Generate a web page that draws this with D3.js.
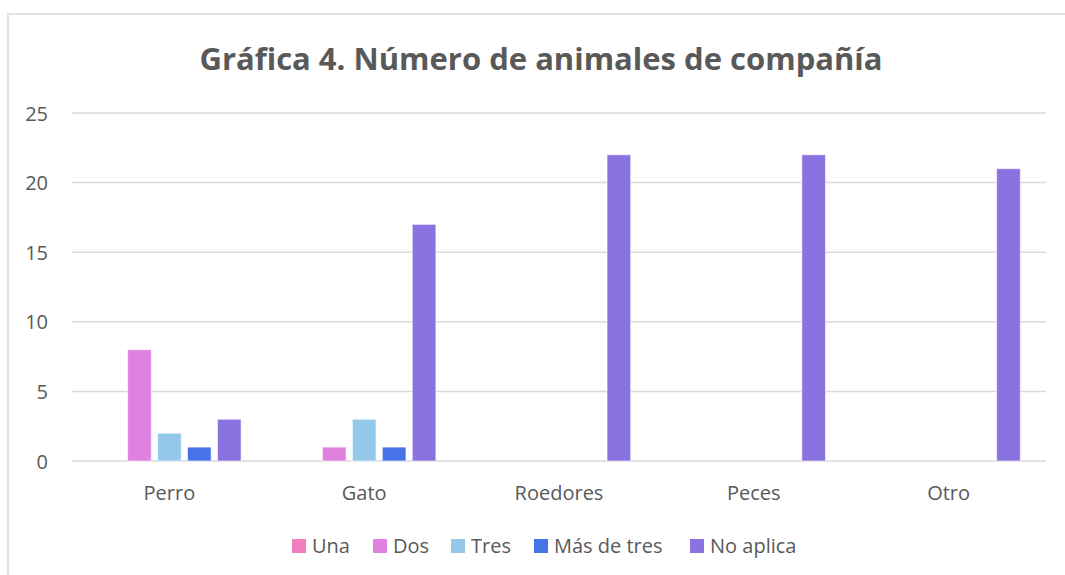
<!DOCTYPE html>
<html>
<head>
<meta charset="utf-8">
<script src="https://cdn.jsdelivr.net/npm/d3@7"></script>
<style>
  body { margin: 0; background: #fff; }
  svg text { font-family: "Open Sans", "Noto Sans", sans-serif; fill: #595959; }
</style>
</head>
<body>
<svg id="chart" width="1065" height="575"></svg>
<script>
const categories = ["Perro", "Gato", "Roedores", "Peces", "Otro"];
const seriesNames = ["Una", "Dos", "Tres", "Más de tres", "No aplica"];
const una = [0, 0, 0, 0, 0];
const dos = [8, 1, 0, 0, 0];
const tres = [2, 3, 0, 0, 0];
const masDeTres = [1, 1, 0, 0, 0];
const noAplica = [3, 17, 22, 22, 21];
const yTicks = [0, 5, 10, 15, 20, 25];
const colors = ["#f07fbf", "#df82df", "#94c9ea", "#4674e6", "#8a72e0"];

const seriesValues = [una, dos, tres, masDeTres, noAplica];

window.addEventListener('DOMContentLoaded', () => {
    const svg = d3.select('#chart');

    // chart frame
    svg.append('rect')
        .attr('x', 8).attr('y', 14)
        .attr('width', 1100).attr('height', 600)
        .attr('fill', 'none')
        .attr('stroke', '#d9d9d9')
        .attr('stroke-width', 1.5);

    svg.append('text')
        .attr('x', 541).attr('y', 70)
        .attr('text-anchor', 'middle')
        .style('font-size', '31px')
        .style('font-weight', 'bold')
        .text('Gráfica 4. Número de animales de compañía');

    const x0 = d3.scaleBand()
        .domain(categories)
        .range([72, 1046])
        .paddingInner(0.264)
        .paddingOuter(0.132);

    const x1 = d3.scaleBand()
        .domain(seriesNames)
        .range([0, x0.bandwidth()])
        .paddingInner(0.21);

    const y = d3.scaleLinear().domain([0, 25]).range([461, 113]);

    // gridlines
    svg.append('g')
        .selectAll('line')
        .data(yTicks)
        .join('line')
        .attr('x1', 72).attr('x2', 1046)
        .attr('y1', d => y(d)).attr('y2', d => y(d))
        .attr('stroke', '#d9d9d9')
        .attr('stroke-width', 1.5);

    const yAxis = svg.append('g')
        .attr('transform', 'translate(48,0)')
        .call(d3.axisLeft(y).tickValues(yTicks).tickSize(0).tickPadding(0));
    yAxis.select('.domain').remove();
    yAxis.selectAll('text').style('font-size', '20px').attr('dy', '0.35em');

    // bars
    const groups = svg.append('g')
        .selectAll('g')
        .data(categories)
        .join('g')
        .attr('transform', d => `translate(${x0(d)},0)`);

    groups.selectAll('rect')
        .data((c, i) => seriesNames.map((s, k) => ({ s, k, v: seriesValues[k][i] })))
        .join('rect')
        .filter(d => d.v > 0)
        .attr('x', d => x1(d.s))
        .attr('width', x1.bandwidth())
        .attr('y', d => y(d.v))
        .attr('height', d => y(0) - y(d.v))
        .attr('fill', d => colors[d.k])
        .attr('stroke', '#ffffff')
        .attr('stroke-opacity', 0.6)
        .attr('stroke-width', 1);

    // category labels
    const xAxis = svg.append('g')
        .attr('transform', `translate(0,${y(0)})`)
        .call(d3.axisBottom(x0).tickSize(0).tickPadding(0));
    xAxis.select('.domain').remove();
    xAxis.selectAll('text').style('font-size', '20px').attr('y', 39).attr('dy', '0');

    // legend
    const legendX = [292, 373, 451, 534, 690];
    const legend = svg.append('g')
        .selectAll('g')
        .data(seriesNames)
        .join('g')
        .attr('transform', (d, i) => `translate(${legendX[i]},539)`);
    legend.append('rect')
        .attr('width', 14).attr('height', 14)
        .attr('fill', (d, i) => colors[i]);
    legend.append('text')
        .attr('x', 20).attr('y', 14)
        .style('font-size', '20px')
        .text(d => d);
});
</script>
</body>
</html>
